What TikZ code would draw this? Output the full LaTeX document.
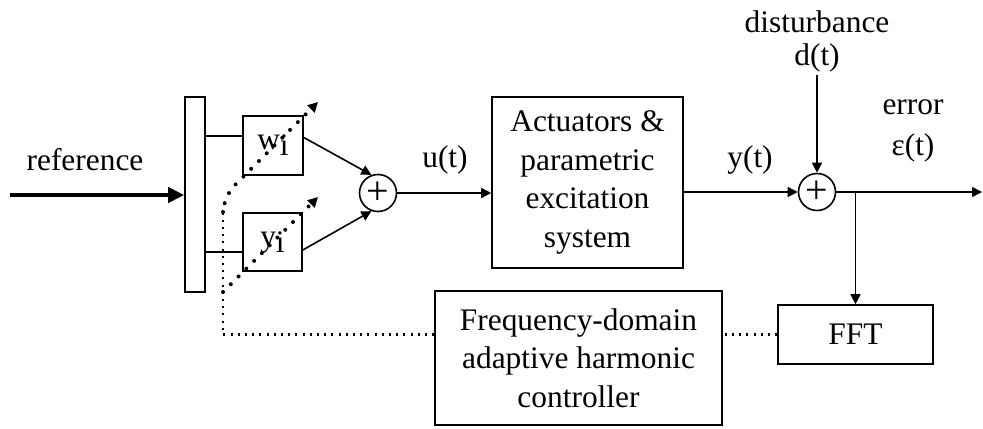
\documentclass[tikz,border=0pt]{standalone}
\usepackage{fontspec}
\setmainfont{Liberation Serif}
\usetikzlibrary{arrows.meta}

\begin{document}
\begin{tikzpicture}[x=0.5pt,y=-0.5pt,
    font=\fontsize{15.7}{19.2}\selectfont,
    block/.style={draw,line width=0.8pt,inner sep=0pt,align=center},
    sumnode/.style={draw,circle,line width=0.8pt,minimum size=18.5pt,inner sep=0pt,
      font=\fontsize{20}{20}\selectfont},
    sig/.style={line width=0.8pt,-{Triangle[length=5pt,width=5pt]}},
    fb/.style={line width=1.2pt,dash pattern=on 1pt off 2.6pt},
    diag/.style={line width=2pt,line cap=round,dash pattern=on 0pt off 5.5pt}]
  \useasboundingbox (0,0) rectangle (983,428);
  % blocks
  \node[block,minimum width=10pt,minimum height=97.5pt] (bar) at (195,194.5) {};
  \node[block,minimum width=30pt,minimum height=29.5pt] (wbox) at (273,145.5) {w\raisebox{-3pt}{i}};
  \node[block,minimum width=29.5pt,minimum height=29pt] (ybox) at (272.5,242) {y\raisebox{-3pt}{i}};
  \node[sumnode] (sum1) at (378,193) {+};
  \node[block,minimum width=95.5pt,minimum height=85.5pt] (act) at (587.5,182.5)
    {Actuators \&\\parametric\\excitation\\system};
  \node[sumnode] (sum2) at (817,192) {+};
  \node[block,minimum width=77.5pt,minimum height=29.5pt] (fft) at (855.5,334.5) {FFT};
  \node[block,minimum width=143.5pt,minimum height=67pt] (ctrl) at (578.5,358)
    {Frequency-domain\\adaptive harmonic\\controller};
  % labels
  \node (reflab) at (85,160) {reference};
  \node (ulab) at (445,160) {u(t)};
  \node (ylab) at (750,160) {y(t)};
  \node (distlab) at (817,22) {disturbance};
  \node[inner sep=1pt] (dlab) at (817,58) {d(t)};
  \node (errlab) at (913,107) {error};
  \node (elab) at (913,148) {ε(t)};
  % free ends
  \coordinate (ref) at (10,195);
  \coordinate (out) at (982,192);
  \coordinate (wl) at (0,136);
  \coordinate (yl) at (0,252);
  \coordinate (wtip) at (318,102);
  \coordinate (ytip) at (318,197);
  \coordinate (corner) at (223,197);
  \coordinate (bend) at (223,212);
  \coordinate (ystart) at (223,292);
  % signal path
  \draw[line width=2.2pt,-{Triangle[length=8pt,width=7.5pt]}] (ref) -- (ref -| bar.west);
  \draw[line width=0.8pt] (bar.east |- wl) -- (wbox.west |- wl);
  \draw[line width=0.8pt] (bar.east |- yl) -- (ybox.west |- yl);
  \draw[sig] ([yshift=4pt]wbox.east) -- (sum1.110);
  \draw[sig] ([yshift=-4pt]ybox.east) -- (sum1.250);
  \draw[sig] (sum1) -- (sum1 -| act.west);
  \draw[sig] (act.east |- sum2) -- (sum2);
  \draw[sig] (dlab) -- (sum2);
  \draw[sig] (sum2) -- (out);
  \draw[sig] (fft.north |- sum2) -- (fft.north);
  % adaptation path
  \draw[fb] (fft.west) -- (fft.west -| ctrl.east);
  \draw[fb] (ctrl.west |- fft.west) -- (corner |- fft.west) -- (bend);
  \draw[diag,rounded corners=8pt,-{Triangle[length=5pt,width=5pt]}] (bend) -- (corner) -- (wtip);
  \draw[diag,-{Triangle[length=5pt,width=5pt]}] (ystart) -- (ytip);
\end{tikzpicture}
\end{document}
